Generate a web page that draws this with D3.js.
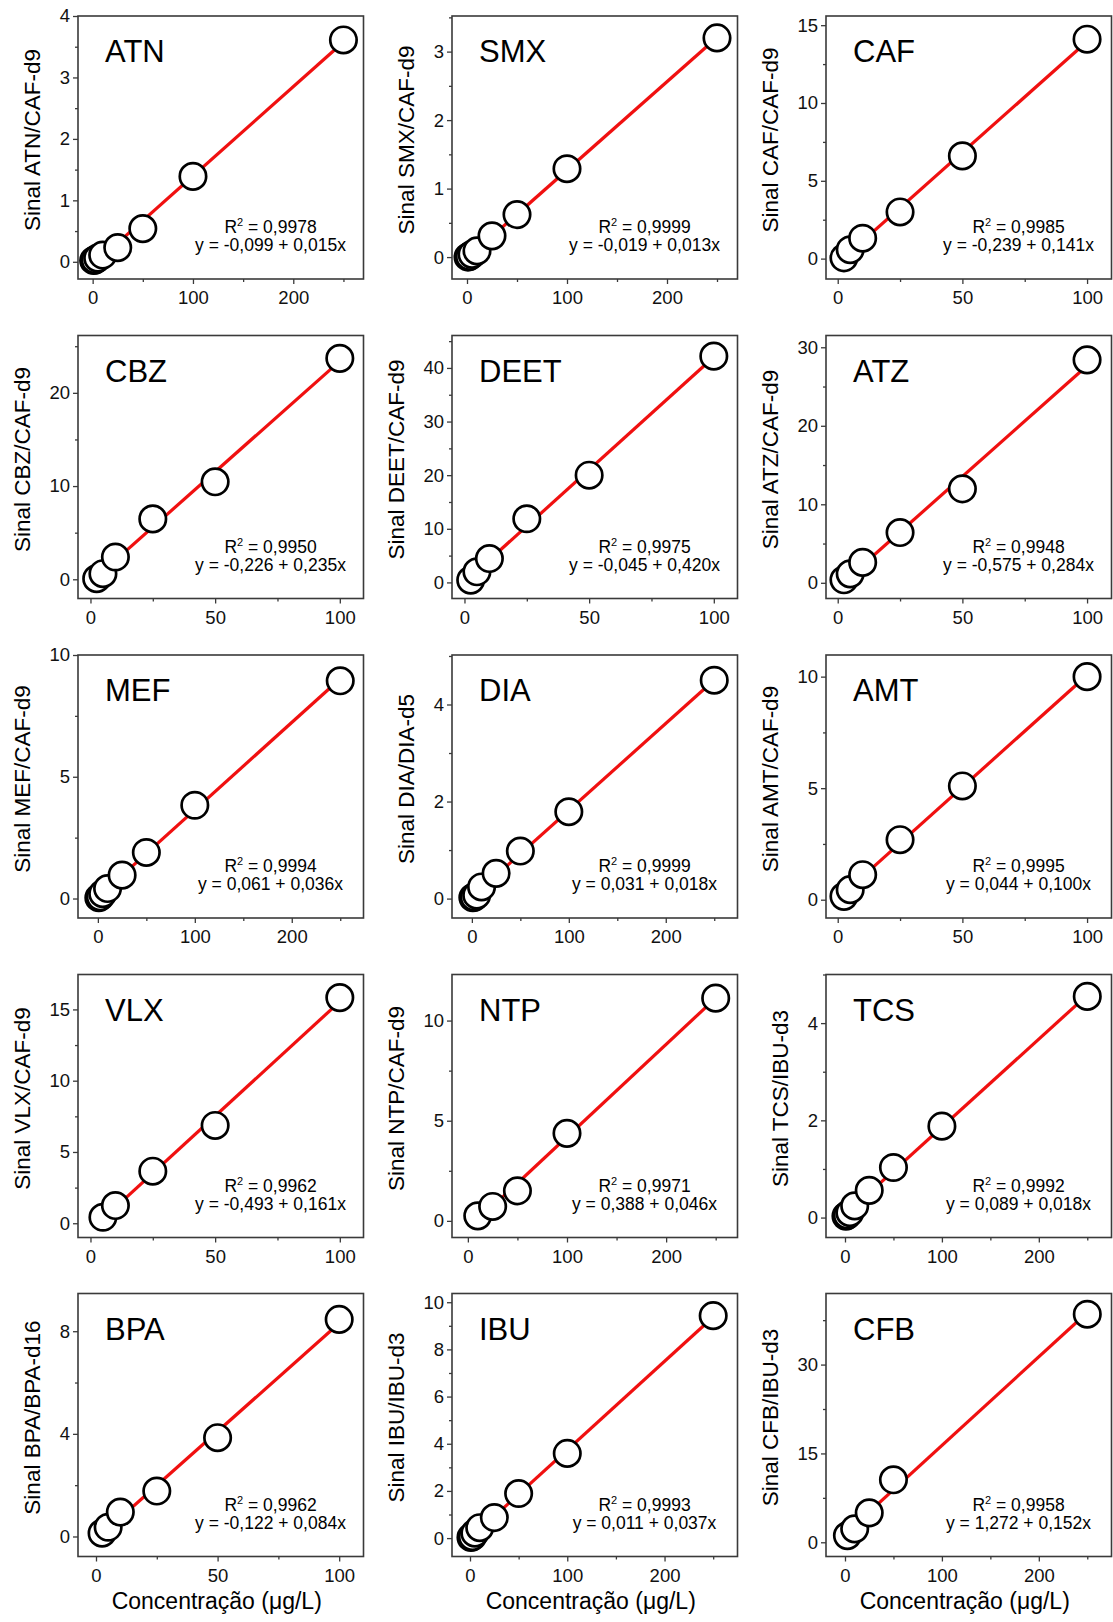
<!DOCTYPE html>
<html>
<head>
<meta charset="utf-8">
<script src="https://cdn.jsdelivr.net/npm/d3@7"></script>
<style>
  body { margin: 0; background: #fff; }
  svg { display: block; font-family: "Liberation Sans", Arial, sans-serif; }
</style>
</head>
<body>
<svg id="chart" width="1113" height="1622"></svg>
<script>
const names = ["ATN", "SMX", "CAF", "CBZ", "DEET", "ATZ", "MEF", "DIA", "AMT", "VLX", "NTP", "TCS", "BPA", "IBU", "CFB"];
const standards = ["CAF-d9", "CAF-d9", "CAF-d9", "CAF-d9", "CAF-d9", "CAF-d9", "CAF-d9", "DIA-d5", "CAF-d9",
  "CAF-d9", "CAF-d9", "IBU-d3", "BPA-d16", "IBU-d3", "IBU-d3"];
const r2Values = ["0,9978", "0,9999", "0,9985", "0,9950", "0,9975", "0,9948", "0,9994", "0,9999", "0,9995",
  "0,9962", "0,9971", "0,9992", "0,9962", "0,9993", "0,9958"];
const equations = [
  "y = -0,099 + 0,015x", "y = -0,019 + 0,013x", "y = -0,239 + 0,141x",
  "y = -0,226 + 0,235x", "y = -0,045 + 0,420x", "y = -0,575 + 0,284x",
  "y = 0,061 + 0,036x", "y = 0,031 + 0,018x", "y = 0,044 + 0,100x",
  "y = -0,493 + 0,161x", "y = 0,388 + 0,046x", "y = 0,089 + 0,018x",
  "y = -0,122 + 0,084x", "y = 0,011 + 0,037x", "y = 1,272 + 0,152x"
];

// concentration levels (µg/L) per compound
const concentrations = [
  [1, 2.5, 5, 10, 25, 50, 100, 250],
  [1, 2.5, 5, 10, 25, 50, 100, 250],
  [2.5, 5, 10, 25, 50, 100],
  [2.5, 5, 10, 25, 50, 100],
  [2.5, 5, 10, 25, 50, 100],
  [2.5, 5, 10, 25, 50, 100],
  [1, 2.5, 5, 10, 25, 50, 100, 250],
  [1, 2.5, 5, 10, 25, 50, 100, 250],
  [2.5, 5, 10, 25, 50, 100],
  [5, 10, 25, 50, 100],
  [10, 25, 50, 100, 250],
  [1, 2.5, 5, 10, 25, 50, 100, 250],
  [2.5, 5, 10, 25, 50, 100],
  [1, 2.5, 5, 10, 25, 50, 100, 250],
  [2.5, 10, 25, 50, 250]
];
// signal ratio
const signals = [
  [0.02, 0.03, 0.06, 0.11, 0.23, 0.54, 1.39, 3.61],
  [0.0, 0.01, 0.04, 0.09, 0.31, 0.62, 1.29, 3.2],
  [0.05, 0.57, 1.31, 3.0, 6.6, 14.1],
  [0.07, 0.6, 2.39, 6.48, 10.46, 23.7],
  [0.43, 1.98, 4.45, 11.87, 20.0, 42.2],
  [0.38, 1.14, 2.6, 6.4, 11.97, 28.4],
  [0.03, 0.07, 0.2, 0.41, 0.96, 1.89, 3.83, 8.94],
  [0.02, 0.03, 0.07, 0.24, 0.52, 0.98, 1.79, 4.5],
  [0.15, 0.45, 1.12, 2.69, 5.1, 10.0],
  [0.42, 1.24, 3.65, 6.86, 15.83],
  [0.25, 0.72, 1.5, 4.37, 11.12],
  [0.03, 0.05, 0.1, 0.24, 0.56, 1.03, 1.88, 4.55],
  [0.13, 0.36, 0.95, 1.77, 3.85, 8.46],
  [0.03, 0.06, 0.21, 0.44, 0.87, 1.89, 3.59, 9.43],
  [1.13, 2.27, 4.97, 10.55, 38.5]
];

const yMin = [-0.28, -0.32, -1.31, -2.06, -3, -2.0, -0.8, -0.4, -0.82, -1, -0.83, -0.41, -0.78, -0.78, -2.4];
const yMax = [4, 3.52, 15.59, 26.15, 46.05, 31.5, 10, 5.02, 10.97, 17.45, 12.3, 5.0, 9.47, 10.37, 42];
const yStep = [1, 1, 5, 10, 10, 10, 5, 2, 5, 5, 5, 2, 4, 2, 15];
const xMin = [-14.6, -15, -4.7, -5, -5, -4.7, -20.5, -20.5, -4.7, -5, -16, -19.6, -7.4, -18.5, -19.6];
const xMax = [270, 270.5, 109.8, 109.5, 109.5, 109.8, 274, 274, 109.8, 109.5, 272, 275, 110, 275, 275];
const xStep = [100, 100, 50, 50, 50, 50, 100, 100, 50, 50, 100, 100, 50, 100, 100];

const svg = d3.select("#chart");
const colLeft = [78, 452, 826];
const rowTop = [16, 335.5, 655, 974.5, 1293.5];
const W = 285.5, H = 263;
const frameColor = "#3a3a3a";

function ticksFor(lo, hi, step) {
  const out = [];
  for (let v = Math.ceil(lo / step) * step; v <= hi + 1e-9; v += step) out.push(+v.toFixed(6));
  return out;
}

function fitLine(xs, ys) {
  const mx = d3.mean(xs), my = d3.mean(ys);
  let sxy = 0, sxx = 0;
  xs.forEach((x, i) => { sxy += (x - mx) * (ys[i] - my); sxx += (x - mx) * (x - mx); });
  const b = sxy / sxx;
  return { a: my - b * mx, b };
}

names.forEach((name, i) => {
  const col = i % 3, row = Math.floor(i / 3);
  const g = svg.append("g").attr("transform", `translate(${colLeft[col]},${rowTop[row]})`);

  const x = d3.scaleLinear().domain([xMin[i], xMax[i]]).range([0, W]);
  const y = d3.scaleLinear().domain([yMin[i], yMax[i]]).range([H, 0]);

  const yMajor = ticksFor(yMin[i], yMax[i], yStep[i]);
  const yMinor = ticksFor(yMin[i], yMax[i], yStep[i] / 2).filter(v => !yMajor.includes(v));
  const xMajor = ticksFor(xMin[i], xMax[i], xStep[i]);
  const xMinor = ticksFor(xMin[i], xMax[i], xStep[i] / 2).filter(v => !xMajor.includes(v));

  // axes
  const yAx = g.append("g").call(d3.axisLeft(y).tickValues(yMajor).tickSize(5).tickPadding(3).tickFormat(d3.format("~g")));
  const yAxMin = g.append("g").call(d3.axisLeft(y).tickValues(yMinor).tickSize(3).tickFormat(""));
  const xAx = g.append("g").attr("transform", `translate(0,${H})`)
    .call(d3.axisBottom(x).tickValues(xMajor).tickSize(5).tickPadding(7).tickFormat(d3.format("~g")));
  const xAxMin = g.append("g").attr("transform", `translate(0,${H})`)
    .call(d3.axisBottom(x).tickValues(xMinor).tickSize(3).tickFormat(""));
  [yAx, yAxMin, xAx, xAxMin].forEach(a => {
    a.select(".domain").remove();
    a.selectAll("line").attr("stroke", frameColor).attr("stroke-width", 1.3);
    a.selectAll("text").attr("font-size", 18.5).attr("fill", "#111")
      .attr("font-family", "'Liberation Sans', Arial, sans-serif");
  });

  // frame
  g.append("rect").attr("width", W).attr("height", H)
    .attr("fill", "none").attr("stroke", frameColor).attr("stroke-width", 1.6);

  // fit line
  const xs = concentrations[i], ys = signals[i];
  const fit = fitLine(xs, ys);
  const x0 = d3.min(xs), x1 = d3.max(xs);
  g.append("line")
    .attr("x1", x(x0)).attr("y1", y(fit.a + fit.b * x0))
    .attr("x2", x(x1)).attr("y2", y(fit.a + fit.b * x1))
    .attr("stroke", "#f01010").attr("stroke-width", 3.2);

  // points
  g.selectAll("circle.pt").data(xs.map((c, k) => [c, ys[k]])).join("circle")
    .attr("class", "pt")
    .attr("cx", d => x(d[0])).attr("cy", d => y(d[1])).attr("r", 13.2)
    .attr("fill", "#fff").attr("stroke", "#000").attr("stroke-width", 2.7);

  // compound name
  g.append("text").attr("x", 27).attr("y", 46).attr("font-size", 31).attr("fill", "#000").text(name);

  // y label
  const maxChars = d3.max(yMajor, v => d3.format("~g")(v).length);
  g.append("text")
    .attr("transform", `translate(${-(36 + 10 * maxChars)},124) rotate(-90)`)
    .attr("dy", "0.36em")
    .attr("text-anchor", "middle").attr("font-size", 22.5).attr("fill", "#000")
    .text(`Sinal ${name}/${standards[i]}`);

  // R² and equation
  const cx = W - 93;
  const r2 = g.append("text").attr("x", cx).attr("y", H - 46).attr("text-anchor", "middle")
    .attr("font-size", 17.5).attr("fill", "#000");
  r2.append("tspan").text("R");
  r2.append("tspan").attr("dy", -7).attr("font-size", 11).text("2");
  r2.append("tspan").attr("dy", 7).text(` = ${r2Values[i]}`);
  g.append("text").attr("x", cx).attr("y", H - 28).attr("text-anchor", "middle")
    .attr("font-size", 17.5).attr("fill", "#000").text(equations[i]);

  // x label on bottom row only
  if (row === 4) {
    g.append("text").attr("x", W / 2 - 4).attr("y", H + 52)
      .attr("text-anchor", "middle").attr("font-size", 23).attr("fill", "#000")
      .text("Concentração (μg/L)");
  }
});
</script>
</body>
</html>
